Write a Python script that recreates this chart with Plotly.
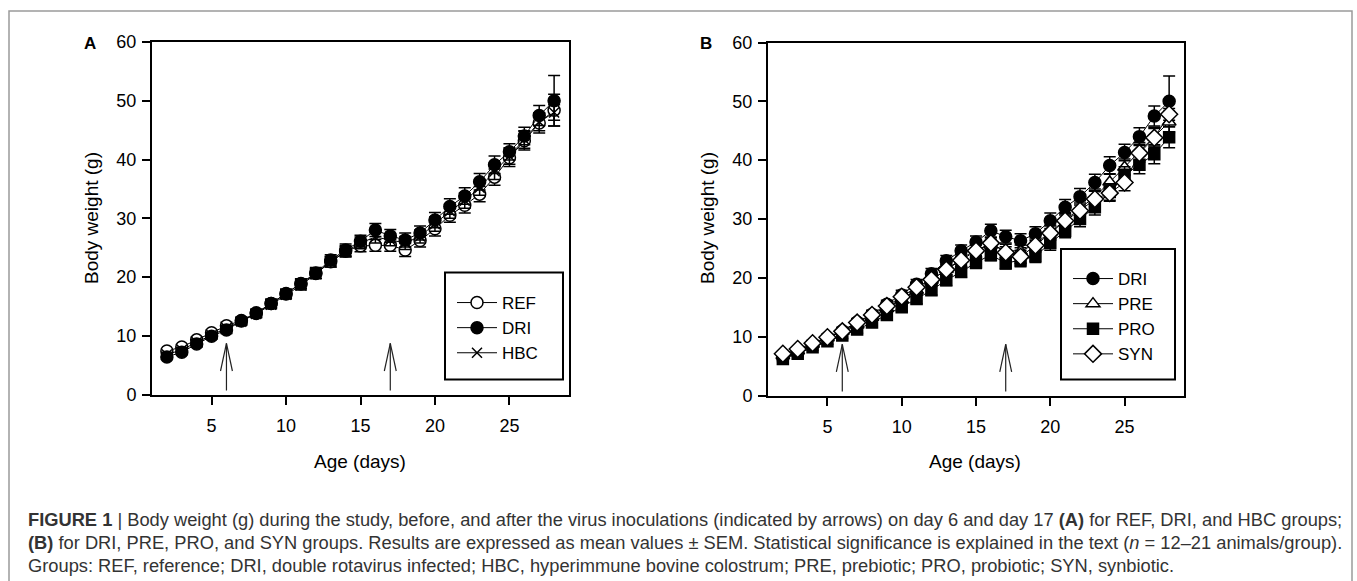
import plotly.graph_objects as go

# ---------------- data ----------------
days = [2, 3, 4, 5, 6, 7, 8, 9, 10, 11, 12, 13, 14, 15, 16, 17, 18, 19, 20, 21, 22, 23, 24, 25, 26, 27, 28]

ref_mean = [7.4, 8.1, 9.3, 10.5, 11.7, 12.6, 13.9, 15.5, 17.2, 18.8, 20.6, 22.6, 24.4, 25.3, 25.4, 25.4, 24.6, 26.2, 28.2, 30.5, 32.2, 34.1, 37.0, 40.3, 43.2, 46.2, 48.4]
ref_sem = [0.4, 0.4, 0.5, 0.5, 0.6, 0.6, 0.6, 0.7, 0.7, 0.8, 0.8, 0.9, 0.9, 1.0, 1.0, 1.0, 1.1, 1.1, 1.2, 1.2, 1.3, 1.3, 1.4, 1.5, 1.6, 1.7, 2.7]

dri_mean = [6.4, 7.2, 8.6, 9.9, 11.0, 12.5, 13.8, 15.5, 17.1, 18.9, 20.7, 22.9, 24.6, 26.1, 28.0, 27.0, 26.3, 27.5, 29.7, 32.0, 33.8, 36.2, 39.1, 41.3, 44.0, 47.5, 50.0]
dri_sem = [0.4, 0.4, 0.5, 0.5, 0.6, 0.6, 0.7, 0.7, 0.8, 0.8, 0.9, 0.9, 1.0, 1.0, 1.1, 1.1, 1.2, 1.2, 1.3, 1.3, 1.4, 1.4, 1.5, 1.4, 1.5, 1.7, 4.3]

hbc_mean = [6.8, 7.6, 8.9, 10.1, 11.3, 12.4, 13.7, 15.3, 17.0, 18.6, 20.5, 22.6, 24.3, 25.8, 26.8, 26.3, 25.8, 26.9, 29.0, 31.2, 33.0, 35.2, 38.0, 40.6, 43.4, 46.4, 48.0]
hbc_sem = [0.4, 0.4, 0.5, 0.5, 0.5, 0.6, 0.6, 0.7, 0.7, 0.8, 0.8, 0.9, 0.9, 1.0, 1.0, 1.0, 1.1, 1.1, 1.2, 1.2, 1.3, 1.3, 1.4, 1.4, 1.5, 1.5, 1.3]

pre_mean = [6.8, 7.6, 8.7, 9.8, 10.9, 12.0, 13.3, 14.8, 16.3, 17.9, 19.6, 21.4, 23.2, 24.8, 25.6, 24.7, 24.5, 25.8, 27.8, 29.9, 31.8, 33.8, 36.3, 38.8, 41.5, 44.0, 46.5]
pre_sem = [0.4, 0.4, 0.5, 0.5, 0.5, 0.6, 0.6, 0.7, 0.7, 0.8, 0.8, 0.9, 0.9, 1.0, 1.0, 1.0, 1.1, 1.1, 1.2, 1.2, 1.3, 1.3, 1.4, 1.4, 1.5, 1.6, 1.8]

pro_mean = [6.2, 7.1, 8.2, 9.2, 10.2, 11.2, 12.4, 13.7, 15.0, 16.4, 17.9, 19.6, 21.0, 22.6, 23.9, 22.5, 23.0, 23.7, 25.9, 28.0, 30.0, 32.0, 34.6, 37.5, 39.2, 41.0, 43.9]
pro_sem = [0.4, 0.4, 0.5, 0.5, 0.5, 0.6, 0.6, 0.7, 0.7, 0.8, 0.8, 0.9, 0.9, 1.0, 1.0, 1.0, 1.1, 1.1, 1.2, 1.2, 1.3, 1.3, 1.4, 1.4, 1.5, 1.6, 1.8]

syn_mean = [7.1, 7.9, 8.9, 9.9, 10.9, 12.4, 13.7, 15.2, 16.8, 18.4, 19.7, 21.4, 23.0, 24.6, 25.9, 24.3, 23.6, 25.5, 27.6, 29.7, 31.4, 33.4, 34.4, 36.2, 41.2, 43.8, 47.8]
syn_sem = [0.4, 0.4, 0.5, 0.5, 0.5, 0.6, 0.6, 0.7, 0.7, 0.8, 0.8, 0.9, 0.9, 1.0, 1.0, 1.0, 1.1, 1.1, 1.2, 1.2, 1.3, 1.3, 1.4, 1.4, 1.5, 1.6, 1.0]

inoculation_days = [6, 17]

x_ticks = [5, 10, 15, 20, 25]
y_ticks = [0, 10, 20, 30, 40, 50, 60]

# ---------------- layout helpers ----------------
W, H = 1357, 581
def px(x):
    return x / W
def py(y):
    return 1 - y / H

FONT = "Arial, Liberation Sans, sans-serif"

fig = go.Figure()

def add_series(name, mean, sem, symbol, fill, size, xa, ya, legend):
    fig.add_trace(go.Scatter(
        x=days, y=mean, name=name, mode="lines+markers",
        xaxis=xa, yaxis=ya, legend=legend,
        line=dict(color="black", width=1),
        marker=dict(symbol=symbol, size=size, color=fill,
                    line=dict(color="black", width=1.5)),
        error_y=dict(type="data", array=sem, visible=True,
                     color="black", thickness=1.5, width=6),
        cliponaxis=False,
    ))

# Panel A
add_series("REF", ref_mean, ref_sem, "circle", "white", 12, "x", "y", "legend")
add_series("DRI", dri_mean, dri_sem, "circle", "black", 12, "x", "y", "legend")
add_series("HBC", hbc_mean, hbc_sem, "x-thin", "black", 10, "x", "y", "legend")
# Panel B
add_series("DRI", dri_mean, dri_sem, "circle", "black", 12, "x2", "y2", "legend2")
add_series("PRE", pre_mean, pre_sem, "triangle-up", "white", 12, "x2", "y2", "legend2")
add_series("PRO", pro_mean, pro_sem, "square", "black", 11, "x2", "y2", "legend2")
add_series("SYN", syn_mean, syn_sem, "diamond", "white", 13, "x2", "y2", "legend2")

axis_common = dict(
    showline=True, linecolor="black", linewidth=2, mirror=True,
    ticks="outside", ticklen=8, tickwidth=2, tickcolor="black",
    showgrid=False, zeroline=False, automargin=False,
    tickfont=dict(family=FONT, size=18, color="black"),
)

fig.update_layout(
    width=W, height=H,
    margin=dict(l=0, r=0, t=0, b=0, autoexpand=False),
    paper_bgcolor="white", plot_bgcolor="white",
    font=dict(family=FONT, size=17, color="black"),
    xaxis=dict(domain=[px(152), px(569)], range=[1, 29], tickvals=x_ticks,
               anchor="y", ticklabelstandoff=6, **axis_common),
    yaxis=dict(domain=[py(394.5), py(42)], range=[0, 60], tickvals=y_ticks,
               anchor="x", ticklabelstandoff=2, **axis_common),
    xaxis2=dict(domain=[px(768), px(1184)], range=[1, 29], tickvals=x_ticks,
                anchor="y2", ticklabelstandoff=6, **axis_common),
    yaxis2=dict(domain=[py(395.5), py(42.5)], range=[0, 60], tickvals=y_ticks,
                anchor="x2", ticklabelstandoff=2, **axis_common),
    legend=dict(x=px(452), y=py(285), xanchor="left", yanchor="top",
                bgcolor="rgba(0,0,0,0)", borderwidth=0,
                font=dict(family=FONT, size=17, color="black"),
                itemwidth=40, tracegroupgap=0),
    legend2=dict(x=px(1068), y=py(261), xanchor="left", yanchor="top",
                 bgcolor="rgba(0,0,0,0)", borderwidth=0,
                 font=dict(family=FONT, size=17, color="black"),
                 itemwidth=40, tracegroupgap=0),
)

shapes = []
# outer figure frame
shapes.append(dict(type="rect", xref="paper", yref="paper",
                   x0=px(9), x1=px(1352), y0=py(700), y1=py(11),
                   line=dict(color="#9a9a9a", width=1.5), fillcolor="rgba(0,0,0,0)"))
# legend frames
shapes.append(dict(type="rect", xref="paper", yref="paper",
                   x0=px(445), x1=px(563), y0=py(379.5), y1=py(272.5),
                   line=dict(color="black", width=2), fillcolor="rgba(0,0,0,0)"))
shapes.append(dict(type="rect", xref="paper", yref="paper",
                   x0=px(1061), x1=px(1175), y0=py(379.5), y1=py(249),
                   line=dict(color="black", width=2), fillcolor="rgba(0,0,0,0)"))
# inoculation arrows (open V heads)
for xa, ya in (("x", "y"), ("x2", "y2")):
    for d in inoculation_days:
        shapes.append(dict(type="line", xref=xa, yref=ya, x0=d, x1=d, y0=0.7, y1=8.7,
                           line=dict(color="#222", width=1.2)))
        for s in (-1, 1):
            shapes.append(dict(type="line", xref=xa, yref=ya, x0=d, x1=d + s * 0.4,
                               y0=8.7, y1=4.0, line=dict(color="#222", width=1.2)))
fig.update_layout(shapes=shapes)

ann = []
def add_text(text, x, y, size, color="black", angle=0, xanchor="center"):
    ann.append(dict(text=text, x=px(x), y=py(y), xref="paper", yref="paper",
                    xanchor=xanchor, yanchor="middle", showarrow=False, textangle=angle,
                    font=dict(family=FONT, size=size, color=color)))

# panel letters
add_text("<b>A</b>", 90, 44, 17)
add_text("<b>B</b>", 706, 44, 17)
# axis titles
add_text("Body weight (g)", 91, 218, 19, angle=-90)
add_text("Body weight (g)", 707, 218, 19, angle=-90)
add_text("Age (days)", 360, 461, 19)
add_text("Age (days)", 975, 461, 19)
# caption
cap = [
    "<b>FIGURE 1</b> | Body weight (g) during the study, before, and after the virus inoculations (indicated by arrows) on day 6 and day 17 <b>(A)</b> for REF, DRI, and HBC groups;",
    "<b>(B)</b> for DRI, PRE, PRO, and SYN groups. Results are expressed as mean values ± SEM. Statistical significance is explained in the text (<i>n</i> = 12–21 animals/group).",
    "Groups: REF, reference; DRI, double rotavirus infected; HBC, hyperimmune bovine colostrum; PRE, prebiotic; PRO, probiotic; SYN, synbiotic.",
]
for i, line in enumerate(cap):
    add_text(line, 26, 519 + 23 * i, 18.3, color="#333333", xanchor="left")
fig.update_layout(annotations=ann)

fig.write_html(
    "out.html",
    config={"displayModeBar": False},
    post_script="document.documentElement.style.margin='0';document.body.style.margin='0';"
                "document.documentElement.style.overflow='hidden';document.body.style.overflow='hidden';",
)
